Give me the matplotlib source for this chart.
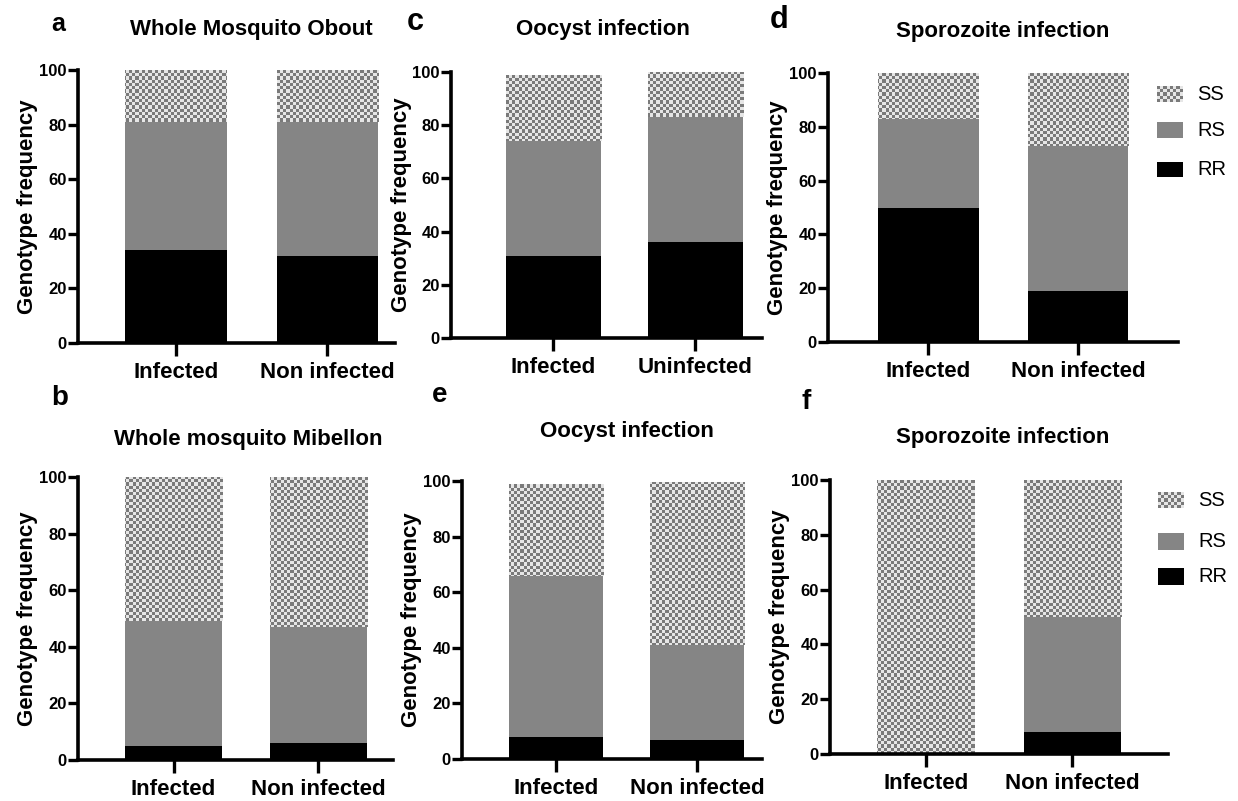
import os

os.environ.setdefault("MPLCONFIGDIR", "/tmp/matplotlib")

import matplotlib  # noqa: E402

matplotlib.use("Agg")
import matplotlib.pyplot as plt  # noqa: E402
import numpy as np  # noqa: E402
from matplotlib.colors import ListedColormap  # noqa: E402
from matplotlib.patches import Rectangle  # noqa: E402

plt.rcParams["font.family"] = "Liberation Sans"

# genotype frequencies (%) per panel, order: [first group, second group]
LABELS_A = ["Infected", "Non infected"]
RR_A = [34, 32]
RS_A = [47, 49]
SS_A = [19, 19]

LABELS_B = ["Infected", "Non infected"]
RR_B = [5, 6]
RS_B = [44, 41]
SS_B = [51, 53]

LABELS_C = ["Infected", "Uninfected"]
RR_C = [31, 36]
RS_C = [43, 47]
SS_C = [25, 17]

LABELS_D = ["Infected", "Non infected"]
RR_D = [50, 19]
RS_D = [33, 54]
SS_D = [17, 27]

LABELS_E = ["Infected", "Non infected"]
RR_E = [8, 7]
RS_E = [58, 34]
SS_E = [33, 58.5]

LABELS_F = ["Infected", "Non infected"]
RR_F = [0, 8]
RS_F = [0, 42]
SS_F = [100, 50]

GENOTYPES = ["SS", "RS", "RR"]

W, H = 1238, 801
RR_COLOR = "#000000"
RS_COLOR = "#858585"
SS_COLORS = ["#7a7a7a", "#e6e6e6"]
SS_BASE = "#b0b0b0"


def px_axes(fig, left, right, top, bottom):
    return fig.add_axes([left / W, 1 - bottom / H, (right - left) / W, (bottom - top) / H])


def checker_fill(ax, patch, cell_px, w_px, h_px, extent):
    nx = max(int(w_px / cell_px), 1)
    ny = max(int(h_px / cell_px), 1)
    grid = np.indices((ny, nx)).sum(axis=0) % 2
    im = ax.imshow(
        grid,
        cmap=ListedColormap(SS_COLORS),
        extent=extent,
        origin="lower",
        aspect="auto",
        interpolation="nearest",
        zorder=patch.get_zorder() + 0.1,
    )
    im.set_clip_path(patch)


def plot_panel(fig, box, xlim, labels, rr, rs, ss, width=0.67):
    left, right, top, bottom = box
    ax = px_axes(fig, left, right, top, bottom)
    x = np.arange(len(labels))
    ax.bar(x, rr, width=width, color=RR_COLOR, linewidth=0, zorder=1)
    ax.bar(x, rs, width=width, bottom=rr, color=RS_COLOR, linewidth=0, zorder=1)
    ss_bars = ax.bar(
        x, ss, width=width, bottom=np.add(rr, rs), color=SS_BASE, linewidth=0, zorder=1
    )
    ax.set_xlim(*xlim)
    ax.set_ylim(0, 100)
    w_px, h_px = right - left, bottom - top
    for patch in ss_bars.patches:
        if patch.get_height() > 0:
            checker_fill(ax, patch, 3.2, w_px, h_px, (*xlim, 0, 100))
    ax.set_xlim(*xlim)
    ax.set_ylim(0, 100)

    ax.set_xticks(x)
    ax.set_xticklabels(labels, fontsize=16, fontweight="bold")
    ax.set_yticks(range(0, 101, 20))
    ax.set_yticklabels([str(v) for v in range(0, 101, 20)], fontsize=12, fontweight="bold")
    ax.tick_params(axis="y", length=7, width=2.4, pad=1)
    ax.tick_params(axis="x", length=9, width=2.4, pad=5)
    for side in ("top", "right"):
        ax.spines[side].set_visible(False)
    for side in ("left", "bottom"):
        ax.spines[side].set_linewidth(2.6)
    ax.patch.set_alpha(0)

    fig.text(
        (left - 50) / W,
        1 - (top + bottom) / 2 / H,
        "Genotype frequency",
        rotation=90,
        ha="center",
        va="center",
        fontsize=16,
        fontweight="bold",
    )
    return ax


def draw_legend(fig, x0, ys):
    ax = fig.add_axes([0, 0, 1, 1])
    ax.set_xlim(0, W)
    ax.set_ylim(H, 0)
    ax.axis("off")
    for name, (y_top, y_bot) in zip(GENOTYPES, ys):
        if name == "SS":
            rect = Rectangle((x0, y_top), 26, y_bot - y_top, color=SS_BASE, lw=0)
            ax.add_patch(rect)
            grid = np.indices((5, 8)).sum(axis=0) % 2
            im = ax.imshow(
                grid,
                cmap=ListedColormap(SS_COLORS),
                extent=(x0, x0 + 26, y_bot, y_top),
                aspect="auto",
                interpolation="nearest",
                zorder=3,
            )
            im.set_clip_path(rect)
        else:
            color = RS_COLOR if name == "RS" else RR_COLOR
            ax.add_patch(Rectangle((x0, y_top), 26, y_bot - y_top, color=color, lw=0))
        ax.text(x0 + 40, (y_top + y_bot) / 2, name, ha="left", va="center", fontsize=14.5)
    ax.set_xlim(0, W)
    ax.set_ylim(H, 0)


def fig_text(fig, x, y, s, size, **kw):
    fig.text(x / W, 1 - y / H, s, ha="center", va="center", fontsize=size, fontweight="bold", **kw)


def main():
    fig = plt.figure(figsize=(W / 100, H / 100), dpi=100)

    plot_panel(fig, (78, 395, 70, 343), (-0.647, 1.446), LABELS_A, RR_A, RS_A, SS_A)
    plot_panel(fig, (451, 762, 72, 338), (-0.72, 1.468), LABELS_C, RR_C, RS_C, SS_C)
    plot_panel(fig, (828, 1178, 73, 342), (-0.67, 1.667), LABELS_D, RR_D, RS_D, SS_D)
    plot_panel(fig, (78, 393, 477, 760), (-0.659, 1.514), LABELS_B, RR_B, RS_B, SS_B)
    plot_panel(fig, (462, 762, 481, 759), (-0.667, 1.46), LABELS_E, RR_E, RS_E, SS_E)
    plot_panel(fig, (830, 1168, 480, 754), (-0.66, 1.654), LABELS_F, RR_F, RS_F, SS_F)

    fig_text(fig, 251, 30, "Whole Mosquito Obout", 16)
    fig_text(fig, 603, 30, "Oocyst infection", 16)
    fig_text(fig, 1003, 32, "Sporozoite infection", 16)
    fig_text(fig, 248, 440, "Whole mosquito Mibellon", 16)
    fig_text(fig, 627, 432, "Oocyst infection", 16)
    fig_text(fig, 1003, 437, "Sporozoite infection", 16)

    fig_text(fig, 58, 24, "a", 18)
    fig_text(fig, 415, 22, "c", 22)
    fig_text(fig, 779, 20, "d", 22)
    fig_text(fig, 60, 398, "b", 20)
    fig_text(fig, 440, 395, "e", 20)
    fig_text(fig, 806, 402, "f", 20)

    draw_legend(fig, 1157, [(86, 102), (122, 138), (162, 177)])
    draw_legend(fig, 1158, [(492, 508), (533, 550), (568, 585)])

    fig.savefig("out.png", dpi=100)


if __name__ == "__main__":
    main()
